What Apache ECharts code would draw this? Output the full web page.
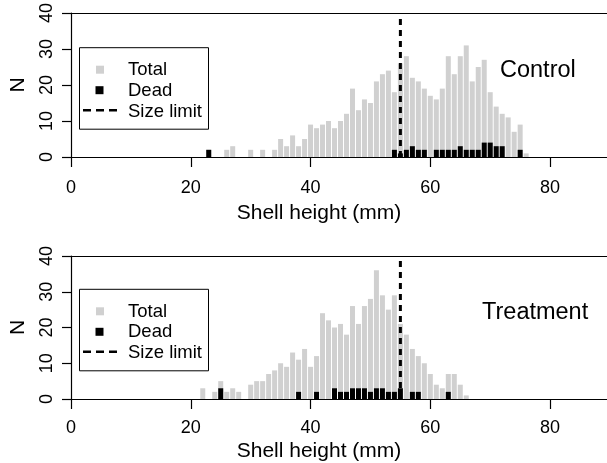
<!DOCTYPE html>
<html>
<head>
<meta charset="utf-8">
<script src="https://cdn.jsdelivr.net/npm/echarts@6/dist/echarts.min.js"></script>
<style>
html,body{margin:0;padding:0;background:#fff;}
#chart{width:607px;height:463px;}
</style>
</head>
<body>
<div id="chart"></div>
<script>
// Shell height bins (mm), bin centres
const shellHeights = [22,23,24,25,26,27,28,29,30,31,32,33,34,35,36,37,38,39,40,41,42,43,44,45,46,47,48,49,
  50,51,52,53,54,55,56,57,58,59,60,61,62,63,64,65,66,67,68,69,70,71,72,73,74,75,76];
// Control panel
const controlTotal = [0,2,0,0,2,3,0,0,2,0,2,0,2,5,3,6,3,5,9,8,9,10,8,10,12,19,13,16,
  15,21,23,24,18,26,28,22,21,19,17,16,19,28,23,28,31,21,25,27,18,14,12,11,7,9,1];
const controlDead = [0,2,0,0,0,0,0,0,0,0,0,0,0,0,0,0,0,0,0,0,0,0,0,0,0,0,0,0,
  0,0,0,0,2,1,2,3,2,2,0,2,2,2,2,3,2,2,2,4,4,3,3,0,0,2,0];
// Treatment panel
const treatmentTotal = [3,0,2,5,2,3,2,0,4,5,5,7,8,10,9,13,11,14,9,12,24,22,20,21,18,26,21,26,
  28,36,29,25,29,21,18,14,12,10,7,4,3,7,7,4,1,0,0,0,0,0,0,0,0,0,0];
const treatmentDead = [0,0,0,3,0,0,0,0,0,0,0,0,0,0,0,0,2,0,0,2,0,0,3,2,2,3,3,3,
  2,3,3,2,2,3,0,2,2,0,0,0,0,2,0,0,0,0,0,0,0,0,0,0,0,0,0];
const sizeLimit = 55;
const xTicks = [0, 20, 40, 60, 80];
const yTicks = [0, 10, 20, 30, 40];
const panelNames = ['Control', 'Treatment'];
const legendNames = ['Total', 'Dead', 'Size limit'];

const FONT = 'Liberation Sans, Arial, Helvetica, sans-serif';
const pairs = (xs, ys) => xs.map((x, i) => [x, ys[i]]);

const grids = [
  {left: 68, right: 0, top: 11, height: 146},
  {left: 68, right: 0, top: 256, height: 144}
];

function xAxisBottom(gi, labelMargin, nameGap) {
  return {
    type: 'value', gridIndex: gi, position: 'bottom',
    min: 0, max: 89.5, interval: 20,
    axisLine: {show: true, onZero: false, lineStyle: {color: '#000', width: 1.2}},
    axisTick: {show: true, length: 10, lineStyle: {color: '#000', width: 1.2},
      customValues: xTicks},
    axisLabel: {show: true, margin: labelMargin, fontSize: 18, color: '#000', fontFamily: FONT,
      customValues: xTicks},
    splitLine: {show: false},
    name: 'Shell height (mm)', nameLocation: 'middle', nameGap: nameGap,
    nameTextStyle: {fontSize: 21, color: '#000', fontFamily: FONT, padding: [0, 40, 0, 0]}
  };
}
function xAxisTop(gi) {
  return {
    type: 'value', gridIndex: gi, position: 'top',
    min: 0, max: 89.5,
    axisLine: {show: true, onZero: false, lineStyle: {color: '#000', width: 1.2}},
    axisTick: {show: false}, axisLabel: {show: false}, splitLine: {show: false}
  };
}
function yAxis(gi) {
  return {
    type: 'value', gridIndex: gi, min: 0, max: 40, interval: 10,
    axisLine: {show: true, onZero: false, lineStyle: {color: '#000', width: 1.2}},
    axisTick: {show: true, length: 9, lineStyle: {color: '#000', width: 1.2}},
    axisLabel: {show: true, rotate: 90, margin: 15, fontSize: 18, color: '#000', fontFamily: FONT},
    splitLine: {show: false},
    name: 'N', nameLocation: 'middle', nameGap: 42, nameRotate: 90,
    nameTextStyle: {fontSize: 21, color: '#000', fontFamily: FONT}
  };
}

function panelSeries(gi, total, dead) {
  return [
    {
      name: legendNames[0], type: 'bar', xAxisIndex: gi * 2, yAxisIndex: gi,
      data: pairs(shellHeights, total), barWidth: 5, barGap: '-100%',
      itemStyle: {color: '#d0d0d0'}, silent: true, animation: false
    },
    {
      name: legendNames[1], type: 'bar', xAxisIndex: gi * 2, yAxisIndex: gi,
      data: pairs(shellHeights, dead), barWidth: 5, barGap: '-100%',
      itemStyle: {color: '#000'}, silent: true, animation: false
    },
    {
      name: legendNames[2], type: 'line', xAxisIndex: gi * 2, yAxisIndex: gi,
      data: [[sizeLimit, 0], [sizeLimit, 40]], symbol: 'none', z: 5,
      lineStyle: {color: '#000', width: 3, type: [6, 5]}, silent: true, animation: false
    }
  ];
}

function legendBox(top) {
  return [
    {type: 'rect', shape: {x: 79.5, y: top, width: 129, height: 81.5},
      style: {fill: 'none', stroke: '#000', lineWidth: 1}},
    {type: 'rect', shape: {x: 96, y: top + 18, width: 8, height: 8}, style: {fill: '#d0d0d0'}},
    {type: 'rect', shape: {x: 95.5, y: top + 38.5, width: 8, height: 8}, style: {fill: '#000'}},
    {type: 'line', shape: {x1: 83, y1: top + 62.5, x2: 118, y2: top + 62.5},
      style: {stroke: '#000', lineWidth: 2.5, lineDash: [8, 5]}},
    {type: 'text', x: 128, y: top + 22.5, style: {text: legendNames[0], fontSize: 18.5,
      fontFamily: FONT, fill: '#000', textVerticalAlign: 'middle'}},
    {type: 'text', x: 128, y: top + 43, style: {text: legendNames[1], fontSize: 18.5,
      fontFamily: FONT, fill: '#000', textVerticalAlign: 'middle'}},
    {type: 'text', x: 128, y: top + 64, style: {text: legendNames[2], fontSize: 18.5,
      fontFamily: FONT, fill: '#000', textVerticalAlign: 'middle'}}
  ];
}

const chart = echarts.init(document.getElementById('chart'), null, {renderer: 'canvas'});
chart.setOption({
  animation: false,
  backgroundColor: '#fff',
  grid: grids,
  xAxis: [xAxisBottom(0, 22, 46), xAxisTop(0), xAxisBottom(1, 20, 42), xAxisTop(1)],
  yAxis: [yAxis(0), yAxis(1)],
  series: [].concat(panelSeries(0, controlTotal, controlDead), panelSeries(1, treatmentTotal, treatmentDead)),
  graphic: [].concat(
    legendBox(47.7),
    legendBox(289.3),
    [
      {type: 'text', x: 500, y: 71, style: {text: panelNames[0], fontSize: 23.5, fontFamily: FONT,
        fill: '#000', textVerticalAlign: 'middle'}},
      {type: 'text', x: 482, y: 313, style: {text: panelNames[1], fontSize: 23.5, fontFamily: FONT,
        fill: '#000', textVerticalAlign: 'middle'}}
    ]
  )
});
</script>
</body>
</html>
